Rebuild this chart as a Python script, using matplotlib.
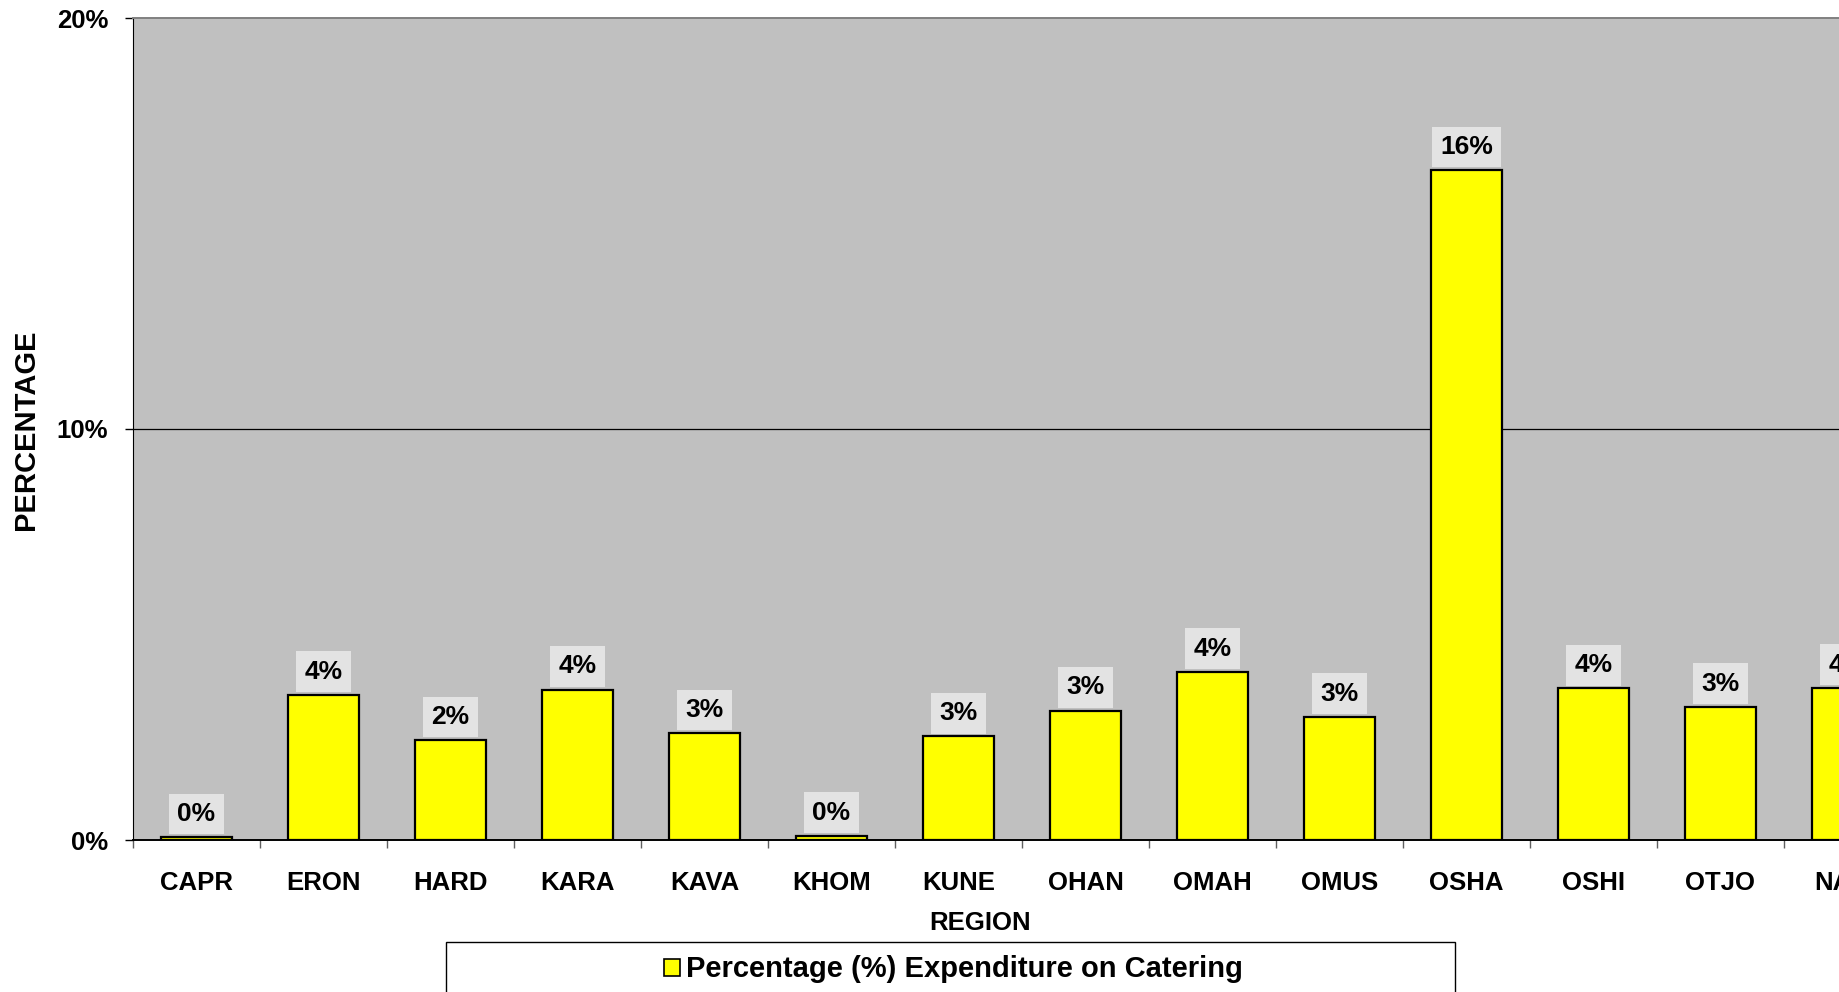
import matplotlib
matplotlib.use("Agg")
from matplotlib import pyplot as plt
from matplotlib.patches import Rectangle
import numpy as np

# data
regions = ["CAPR", "ERON", "HARD", "KARA", "KAVA", "KHOM", "KUNE",
           "OHAN", "OMAH", "OMUS", "OSHA", "OSHI", "OTJO", "NAMI"]
catering_pct = [0.07, 3.53, 2.43, 3.66, 2.6, 0.1, 2.52,
                3.15, 4.09, 3.0, 16.3, 3.69, 3.24, 3.7]
y_ticks = [0, 10, 20]

plt.rcParams['font.family'] = ['Liberation Sans', 'DejaVu Sans']
plt.rcParams['font.weight'] = 'bold'

W, H = 1839, 992
fig = plt.figure(figsize=(W / 100, H / 100), dpi=100)

# axes run past the right edge of the figure, like the cropped original
left, bottom, top = 133, 840, 18
ax = fig.add_axes([left / W, 1 - bottom / H, 127 * len(regions) / W, (bottom - top) / H])
ax.set_facecolor("#c0c0c0")

x = np.arange(len(regions))
bars = ax.bar(x, catering_pct, width=0.56, color="#ffff00",
              edgecolor="black", linewidth=1.6, zorder=3,
              label="Percentage (%) Expenditure on Catering")
ax.bar_label(bars, fmt="{:.0f}%", padding=8, fontsize=19, fontweight="bold",
             bbox=dict(facecolor="#e3e3e3", edgecolor="none", pad=6), zorder=4)

ax.set_xlim(-0.5, len(regions) - 0.5)
ax.set_ylim(0, 20)
ax.set_yticks(y_ticks)
ax.set_yticklabels([f"{v}%" for v in y_ticks], fontsize=18.5, fontweight="bold")
ax.tick_params(axis="y", length=6, width=1, pad=12)
ax.axhline(10, color="black", linewidth=0.9, zorder=1)

ax.set_xticks(x)
ax.set_xticklabels(regions, fontsize=18.5, fontweight="bold")
ax.tick_params(axis="x", which="major", length=0, pad=22)
ax.set_xticks(np.arange(len(regions) + 1) - 0.5, minor=True)
ax.tick_params(axis="x", which="minor", length=6, width=1, color="#606060")

ax.spines["left"].set_color("black")
ax.spines["bottom"].set_color("black")
ax.spines["bottom"].set_linewidth(1.4)
ax.spines["top"].set_color("#808080")
ax.spines["top"].set_linewidth(1.4)

fig.text(26 / W, 1 - 430 / H, "PERCENTAGE", rotation=90, ha="center", va="center",
         fontsize=21, fontweight="bold")
fig.text(980 / W, 1 - 923 / H, "REGION", ha="center", va="center",
         fontsize=18.5, fontweight="bold")

# legend box (cut by the bottom edge)
fig.add_artist(Rectangle((446 / W, -0.05), (1455 - 446) / W, 0.05 + 1 - 942 / H,
                         transform=fig.transFigure, facecolor="white",
                         edgecolor="black", linewidth=1.0))
fig.add_artist(Rectangle((664 / W, 1 - 976 / H), 16 / W, 17 / H,
                         transform=fig.transFigure, facecolor="#ffff00",
                         edgecolor="black", linewidth=1.2))
fig.text(686 / W, 1 - 969 / H, "Percentage (%) Expenditure on Catering",
         ha="left", va="center", fontsize=21, fontweight="bold")

plt.savefig("out.png", dpi=100)
